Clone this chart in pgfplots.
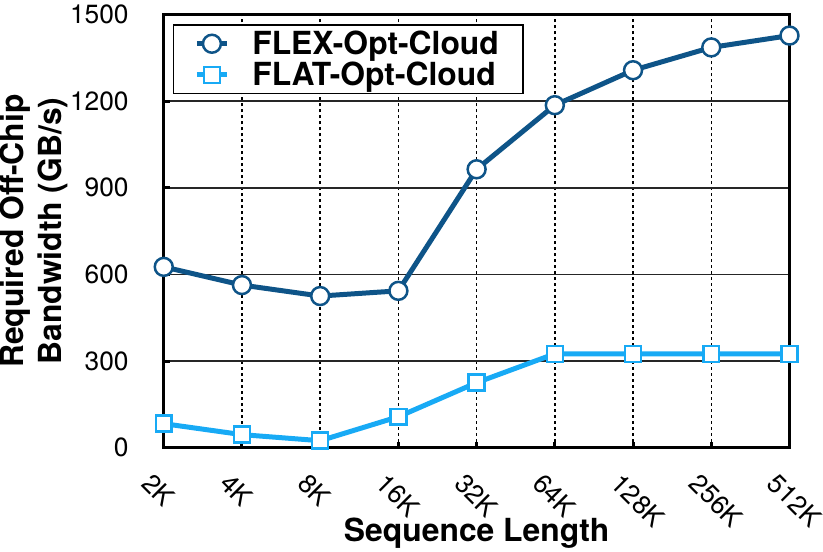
\documentclass[border={0pt 0pt 0pt 5pt}]{standalone}
\usepackage{fontspec}
\setmainfont{TeX Gyre Heros}
\usepackage{pgfplots}
\pgfplotsset{compat=1.18}
\definecolor{flex}{RGB}{14,84,136}
\definecolor{flat}{RGB}{24,170,245}
\begin{document}
\begin{tikzpicture}
\begin{axis}[
 scale only axis, width=627bp, height=434bp,
 xmin=0, xmax=8, ymin=0, ymax=1500,
 xtick={0,...,8}, xticklabels={2K,4K,8K,16K,32K,64K,128K,256K,512K},
 ytick={0,300,...,1500},
 /pgf/number format/assume math mode=true,
 /pgf/number format/1000 sep={},
 axis line style={line width=3bp},
 tick style={line width=3bp, black},
 major tick length=6bp,
 tick align=inside, xtick pos=bottom, ytick pos=left,
 grid=major,
 x grid style={black, line width=1.5bp, dash pattern=on 3bp off 3bp},
 y grid style={black!85, line width=1.5bp},
 tick label style={font=\fontsize{26.5}{30}\selectfont},
 xticklabel style={xshift=-10bp, yshift=-24bp, rotate=-45, anchor=north west, inner sep=0pt},
 yticklabel style={xshift=-35bp, anchor=east, inner sep=0pt},
 label style={font=\fontsize{32}{38.5}\selectfont\bfseries},
 xlabel={Sequence Length},
 xlabel style={at={(rel axis cs:0.5,-0.2166)}, anchor=base},
 ylabel={Required Off-Chip\\Bandwidth (GB/s)},
 ylabel style={align=center, at={(rel axis cs:-0.262,0.5)}, anchor=north, inner sep=0pt},
 clip=false,
 legend style={at={(rel axis cs:0.0144,0.977)}, anchor=north west, draw=black, line width=1.5bp,
   font=\fontsize{32}{35}\selectfont\bfseries, cells={anchor=west},
   inner xsep=21bp, inner ysep=3bp, nodes={inner sep=3bp},
   /tikz/every odd column/.append style={column sep=20bp}},
 legend image code/.code={\draw[#1, mark repeat=2, mark phase=2] plot coordinates {(0bp,0bp) (15bp,0bp) (30bp,0bp)};},
]
\addplot[color=flex, line width=5bp, mark=*, mark size=9bp, mark options={fill=white, draw=flex, line width=2.5bp}]
 coordinates {(0,626) (1,563) (2,525) (3,543) (4,964) (5,1186) (6,1307) (7,1386) (8,1427)};
\addlegendentry{FLEX-Opt-Cloud}
\addplot[color=flat, line width=5bp, mark=square*, mark size=8bp, mark options={fill=white, draw=flat, line width=2.5bp}]
 coordinates {(0,83) (1,45) (2,24) (3,107) (4,225) (5,325) (6,325) (7,325) (8,325)};
\addlegendentry{FLAT-Opt-Cloud}
\end{axis}
\end{tikzpicture}
\end{document}
